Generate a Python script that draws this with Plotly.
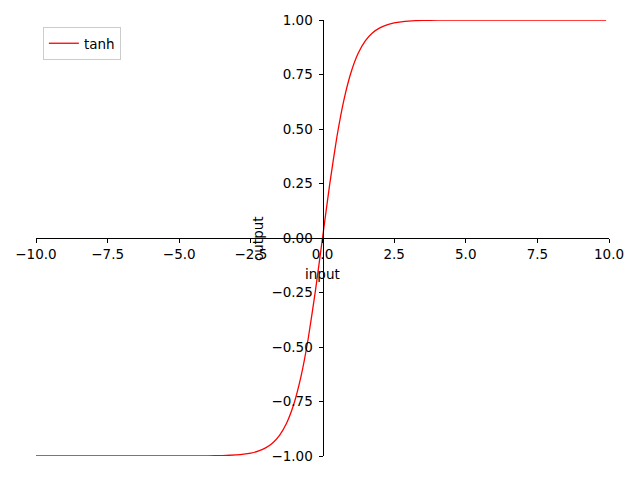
import plotly.graph_objects as go

x_input = [-10.0, -8.0, -6.0, -5.0, -4.5, -4.0, -3.5, -3.0, -2.75, -2.5, -2.25, -2.0,
           -1.75, -1.5, -1.25, -1.0, -0.75, -0.5, -0.25, 0.0,
           0.25, 0.5, 0.75, 1.0, 1.25, 1.5, 1.75, 2.0, 2.25, 2.5, 2.75, 3.0,
           3.5, 4.0, 4.5, 5.0, 6.0, 8.0, 9.9]
y_tanh = [-1.0, -1.0, -1.0, -0.9999, -0.9998, -0.9993, -0.9982, -0.9951, -0.9919, -0.9866, -0.9780, -0.9640,
          -0.9414, -0.9051, -0.8483, -0.7616, -0.6351, -0.4621, -0.2449, 0.0,
          0.2449, 0.4621, 0.6351, 0.7616, 0.8483, 0.9051, 0.9414, 0.9640, 0.9780, 0.9866, 0.9919, 0.9951,
          0.9982, 0.9993, 0.9998, 0.9999, 1.0, 1.0, 1.0]

x_ticks = [-10.0, -7.5, -5.0, -2.5, 0.0, 2.5, 5.0, 7.5, 10.0]
y_ticks = [-1.0, -0.75, -0.5, -0.25, 0.0, 0.25, 0.5, 0.75, 1.0]

font = dict(family="DejaVu Sans", size=13.5, color="black")

fig = go.Figure()
fig.add_trace(go.Scatter(x=x_input, y=y_tanh, mode="lines", name="tanh",
                         line=dict(color="red", width=1.3, shape="spline", smoothing=0.5)))

fig.update_layout(
    width=640, height=480,
    margin=dict(l=36, r=31, t=20, b=24, autoexpand=False),
    paper_bgcolor="white", plot_bgcolor="white",
    font=font,
    showlegend=True,
    legend=dict(x=0.012, y=0.984, xanchor="left", yanchor="top",
                bordercolor="#cccccc", borderwidth=1, bgcolor="white",
                font=font, tracegroupgap=0),
    xaxis=dict(range=[-10, 10], anchor="free", position=0.5, automargin=False,
               showline=True, linecolor="black", linewidth=1,
               ticks="outside", ticklen=4, tickcolor="black",
               tickvals=x_ticks, tickformat=".1f",
               showgrid=False, zeroline=False),
    yaxis=dict(range=[-1, 1], anchor="free", position=0.5, automargin=False,
               showline=True, linecolor="black", linewidth=1,
               ticks="outside", ticklen=4, tickcolor="black",
               tickvals=y_ticks, tickformat=".2f", ticklabelstandoff=3,
               showgrid=False, zeroline=False),
    annotations=[
        dict(text="input", xref="paper", yref="paper", x=0.5, y=0.4174,
             xanchor="center", yanchor="middle", showarrow=False, font=font),
        dict(text="output", xref="paper", yref="paper", x=0.3874, y=0.5,
             xanchor="center", yanchor="middle", showarrow=False, textangle=-90, font=font),
    ],
)

fig.write_html("out.html", config={"displayModeBar": False},
               post_script="document.body.style.margin='0px';")
